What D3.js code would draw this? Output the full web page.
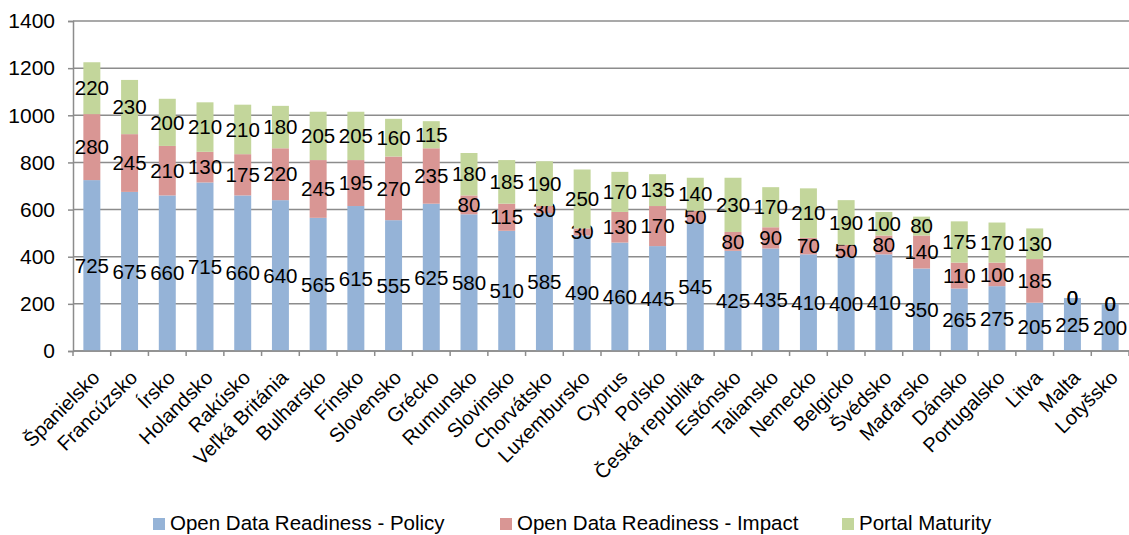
<!DOCTYPE html>
<html>
<head>
<meta charset="utf-8">
<script src="https://cdn.jsdelivr.net/npm/d3@7"></script>
<style>
  body { margin: 0; background: #fff; }
  text { font-family: "Liberation Sans", Arial, sans-serif; fill: #000; }
</style>
</head>
<body>
<div id="chart"></div>
<script>
// categories and series values
const countries = ["Španielsko", "Francúzsko", "Írsko", "Holandsko", "Rakúsko", "Veľká Británia",
  "Bulharsko", "Fínsko", "Slovensko", "Grécko", "Rumunsko", "Slovinsko", "Chorvátsko",
  "Luxembursko", "Cyprus", "Poľsko", "Česká republika", "Estónsko", "Taliansko", "Nemecko",
  "Belgicko", "Švédsko", "Maďarsko", "Dánsko", "Portugalsko", "Litva", "Malta", "Lotyšsko"];
const policy = [725, 675, 660, 715, 660, 640, 565, 615, 555, 625, 580, 510, 585, 490, 460, 445,
  545, 425, 435, 410, 400, 410, 350, 265, 275, 205, 225, 200];
const impact = [280, 245, 210, 130, 175, 220, 245, 195, 270, 235, 80, 115, 30, 30, 130, 170,
  50, 80, 90, 70, 50, 80, 140, 110, 100, 185, 0, 0];
const portal = [220, 230, 200, 210, 210, 180, 205, 205, 160, 115, 180, 185, 190, 250, 170, 135,
  140, 230, 170, 210, 190, 100, 80, 175, 170, 130, 0, 0];
const seriesNames = ["Open Data Readiness - Policy", "Open Data Readiness - Impact", "Portal Maturity"];
const yTicks = [0, 200, 400, 600, 800, 1000, 1200, 1400];

const colors = ["#95b3d7", "#d99694", "#c3d69b"];

const W = 1129, H = 535;
const margin = {top: 21, right: 0, bottom: 184, left: 73};
const width = W - margin.left - margin.right,
      height = H - margin.top - margin.bottom;

const svg = d3.select("#chart").append("svg")
    .attr("width", W)
    .attr("height", H);
const g = svg.append("g")
    .attr("transform", "translate(" + margin.left + "," + margin.top + ")");

const x = d3.scaleBand().domain(countries).range([0, width]).paddingInner(0.55).paddingOuter(0.275);
const y = d3.scaleLinear().domain([0, 1400]).range([height, 0]);

// gridlines
g.selectAll(".grid")
    .data(yTicks)
  .enter().append("line")
    .attr("x1", 0).attr("x2", width)
    .attr("y1", d => y(d)).attr("y2", d => y(d))
    .style("stroke", "#8c8c8c")
    .style("stroke-width", 1.5);

// stacked data
const rows = countries.map((c, i) => ({country: c, s0: policy[i], s1: impact[i], s2: portal[i]}));
const stack = d3.stack().keys(["s0", "s1", "s2"])(rows);

const layer = g.selectAll(".layer")
    .data(stack)
  .enter().append("g")
    .style("fill", (d, i) => colors[i]);

layer.selectAll("rect")
    .data(d => d)
  .enter().append("rect")
    .attr("x", d => x(d.data.country))
    .attr("width", x.bandwidth())
    .attr("y", d => y(d[1]))
    .attr("height", d => y(d[0]) - y(d[1]));

// y axis
const yAxis = g.append("g")
    .call(d3.axisLeft(y).tickValues(yTicks).tickSize(5).tickPadding(13).tickFormat(d3.format("d")));
yAxis.select(".domain").style("stroke", "#8c8c8c").style("stroke-width", 1.5);
yAxis.selectAll(".tick line").style("stroke", "#8c8c8c").style("stroke-width", 1.5);
yAxis.selectAll("text").style("font-size", "21px");

// x axis: ticks between categories
const step = x.step();
const xAxis = g.append("g").attr("transform", "translate(0," + height + ")");
xAxis.append("line").attr("x1", 0).attr("x2", width)
    .style("stroke", "#8c8c8c").style("stroke-width", 1.5);
xAxis.selectAll(".xtick")
    .data(d3.range(countries.length + 1))
  .enter().append("line")
    .attr("x1", i => i * step).attr("x2", i => i * step)
    .attr("y1", 0).attr("y2", 5)
    .style("stroke", "#8c8c8c").style("stroke-width", 1.5);
xAxis.selectAll(".xlab")
    .data(countries)
  .enter().append("text")
    .attr("transform", d => "translate(" + (x(d) + x.bandwidth() / 2 + 9) + ",28) rotate(-45)")
    .attr("text-anchor", "end")
    .style("font-size", "20px")
    .text(d => d);

// data labels centered in each segment
layer.selectAll(".lab")
    .data(d => d)
  .enter().append("text")
    .attr("x", d => x(d.data.country) + x.bandwidth() / 2)
    .attr("y", d => y((d[0] + d[1]) / 2))
    .attr("dy", "0.35em")
    .attr("text-anchor", "middle")
    .style("font-size", "20.5px")
    .style("fill", "#000")
    .text(d => d[1] - d[0]);

// legend
const legendX = [153, 500, 842];
const legend = svg.selectAll(".legend")
    .data(seriesNames)
  .enter().append("g")
    .attr("transform", (d, i) => "translate(" + legendX[i] + ",530)");
legend.append("rect")
    .attr("x", 0).attr("y", -12).attr("width", 12).attr("height", 12)
    .style("fill", (d, i) => colors[i]);
legend.append("text")
    .attr("x", 17)
    .style("font-size", "20.5px")
    .text(d => d);
</script>
</body>
</html>
